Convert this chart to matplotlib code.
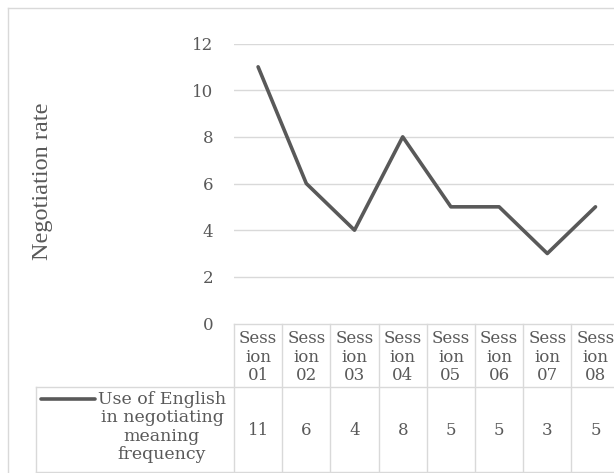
import matplotlib
matplotlib.use("Agg")
import matplotlib.pyplot as plt
from matplotlib.lines import Line2D
from matplotlib.transforms import blended_transform_factory

# Data
sessions = ["Session 01", "Session 02", "Session 03", "Session 04",
            "Session 05", "Session 06", "Session 07", "Session 08"]
header_labels = ["Sess\nion\n01", "Sess\nion\n02", "Sess\nion\n03", "Sess\nion\n04",
                 "Sess\nion\n05", "Sess\nion\n06", "Sess\nion\n07", "Sess\nion\n08"]
frequency = [11, 6, 4, 8, 5, 5, 3, 5]
series_name = "Use of English\nin negotiating\nmeaning\nfrequency"
y_ticks = [0, 2, 4, 6, 8, 10, 12]
y_label = "Negotiation rate"

W, H = 614, 473
DPI = 100
INK = "#595959"
GRID = "#d9d9d9"
SERIF = ["DejaVu Serif"]

fig = plt.figure(figsize=(W / DPI, H / DPI), dpi=DPI)
fig.patch.set_facecolor("white")

def fx(px):
    return px / W

def fy(py):
    return 1 - py / H

# Plot area (extends past the right edge of the canvas)
left_px, right_px = 234, 619.6
top_px, zero_px = 43.5, 323.5
ax = fig.add_axes([fx(left_px), fy(zero_px), fx(right_px - left_px), (zero_px - top_px) / H])
n = len(frequency)
x = list(range(n))
ax.set_xlim(-0.5, n - 0.5)
ax.set_ylim(0, 12)
for s in ax.spines.values():
    s.set_visible(False)
ax.set_xticks([])
ax.set_yticks(y_ticks)
ax.set_yticklabels([str(t) for t in y_ticks], fontfamily=SERIF, fontsize=12, color=INK)
ax.tick_params(axis="y", length=0, pad=15)
for t in y_ticks[1:]:
    ax.axhline(t, color=GRID, lw=1.0, zorder=1)

ax.plot(x, frequency, color=INK, lw=2.6, solid_capstyle="round",
        solid_joinstyle="round", zorder=3, clip_on=False)

# Y-axis title
fig.text(fx(43), fy(181), y_label, rotation=90, ha="center", va="center",
         fontfamily=["Liberation Serif"], fontsize=17.5, color=INK)

# Outer chart border
fig.add_artist(Line2D([fx(7.5), fx(7.5)], [fy(8), fy(480)], color=GRID, lw=1.0))
fig.add_artist(Line2D([fx(7.5), fx(700)], [fy(8), fy(8)], color=GRID, lw=1.0))

# Data table below the plot
bt = blended_transform_factory(ax.transData, fig.transFigure)
hdr_top, hdr_bot, row_bot = 324, 387, 472
edges = [i - 0.5 for i in range(n + 1)]
for e in edges:
    fig.add_artist(Line2D([e, e], [fy(hdr_top), fy(row_bot)], transform=bt,
                          color=GRID, lw=1.0))
fig.add_artist(Line2D([edges[0], edges[-1]], [fy(hdr_top), fy(hdr_top)], transform=bt,
                      color=GRID, lw=1.0))
fig.add_artist(Line2D([fx(36), fx(700)], [fy(hdr_bot), fy(hdr_bot)], color=GRID, lw=1.0))
fig.add_artist(Line2D([fx(36), fx(700)], [fy(row_bot), fy(row_bot)], color=GRID, lw=1.0))
fig.add_artist(Line2D([fx(36), fx(36)], [fy(hdr_bot), fy(row_bot)], color=GRID, lw=1.0))

for i, (lab, v) in enumerate(zip(header_labels, frequency)):
    fig.text(i, fy(357), lab, transform=bt, ha="center", va="center",
             multialignment="center", linespacing=1.15,
             fontfamily=SERIF, fontsize=12, color=INK)
    fig.text(i, fy(430), str(v), transform=bt, ha="center", va="center",
             fontfamily=SERIF, fontsize=12, color=INK)

# Legend key and series name in the table's row header
fig.add_artist(Line2D([fx(41), fx(95)], [fy(399), fy(399)], color=INK, lw=2.6,
                      solid_capstyle="round"))
fig.text(fx(162), fy(427), series_name, ha="center", va="center",
         multialignment="center", linespacing=1.12,
         fontfamily=SERIF, fontsize=12.5, color=INK)

fig.savefig("out.png", dpi=DPI)
